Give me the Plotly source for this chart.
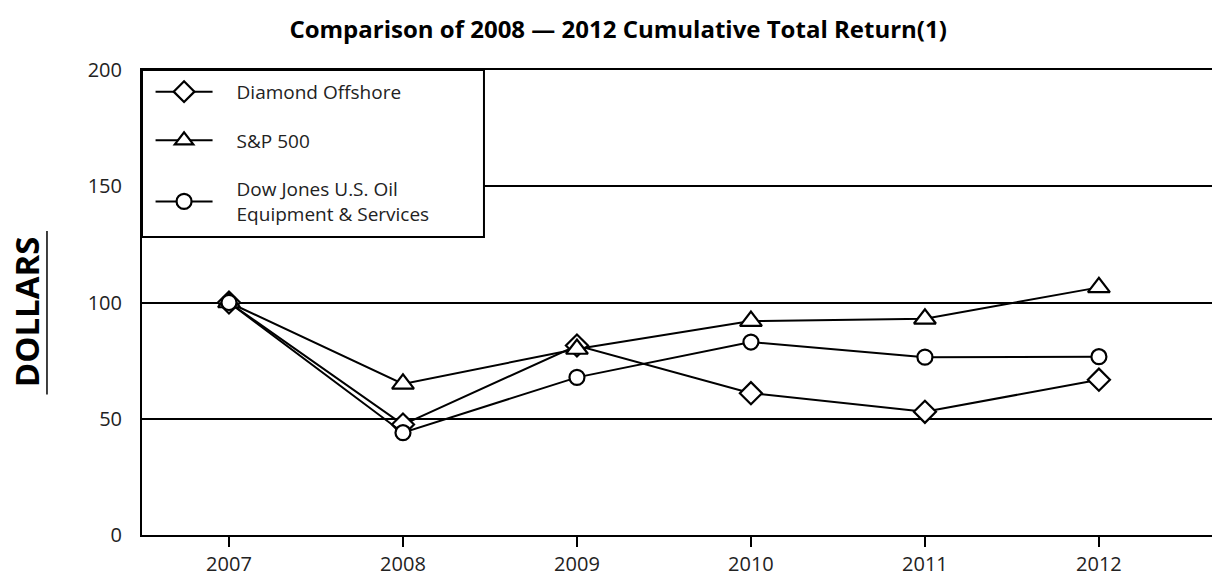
import plotly.graph_objects as go

years = [2007, 2008, 2009, 2010, 2011, 2012]
diamond_offshore = [100, 47.5, 81.5, 61, 53, 66.8]
sp500 = [100, 65, 80, 92, 93, 106.5]
dj_oil = [100, 44, 67.8, 83, 76.5, 76.7]

PAD = "\u2002\u2002"
series = [
    (PAD + "Diamond Offshore", diamond_offshore, "diamond"),
    (PAD + "S&P 500", sp500, "triangle-up"),
    (PAD + "Dow Jones U.S. Oil<br>" + PAD + "Equipment & Services", dj_oil, "circle"),
]
marker_sizes = {"diamond": 17, "triangle-up": 19, "circle": 15}

fig = go.Figure()
for i, (name, vals, sym) in enumerate(series):
    fig.add_trace(go.Scatter(
        x=years, y=vals, name=name, mode="lines+markers",
        legendgroup=f"g{i}",
        line=dict(color="black", width=2),
        marker=dict(symbol=sym, size=marker_sizes[sym], color="white",
                    line=dict(color="black", width=2.2)),
    ))

fig.update_layout(
    width=1212, height=578,
    margin=dict(l=142, r=0, t=70, b=43),
    paper_bgcolor="white", plot_bgcolor="white",
    font=dict(family="Open Sans", color="#222"),
    title=dict(text="<b>Comparison of 2008 — 2012 Cumulative Total Return(1)</b>",
               x=0.51, xanchor="center", y=0.948, yanchor="middle",
               font=dict(size=24, color="black", family="Open Sans")),
    showlegend=True,
    legend=dict(x=0.008, y=0.994, xanchor="left", yanchor="top",
                bgcolor="rgba(0,0,0,0)", borderwidth=0,
                font=dict(size=19, color="#222"), itemwidth=57,
                traceorder="grouped", tracegroupgap=21),
    xaxis=dict(range=[2006.5, 2012.65], tickvals=years,
               ticktext=[str(y) for y in years],
               showgrid=False, zeroline=False,
               showline=True, linecolor="black", linewidth=2, mirror=True,
               ticks="outside", ticklen=10, tickwidth=2, tickcolor="black",
               tickfont=dict(size=20, color="#222")),
    yaxis=dict(range=[0, 200], tickvals=[0, 50, 100, 150, 200],
               showgrid=True, gridcolor="black", gridwidth=2,
               zeroline=False, showline=True, linecolor="black", linewidth=2,
               ticks="", ticklabelstandoff=14,
               tickfont=dict(size=20, color="#222")),
    annotations=[dict(text="<b>DOLLARS</b>", xref="paper", yref="paper",
                      x=-0.108, y=0.48, xanchor="center", yanchor="middle",
                      textangle=-90, showarrow=False, borderpad=0,
                      font=dict(size=33, color="black", family="Open Sans"))],
)

# legend frame
fig.add_shape(type="rect", xref="paper", yref="paper",
              x0=0, x1=0.3196, y0=0.641, y1=1,
              fillcolor="white", line=dict(color="black", width=2),
              layer="above")
# underline of axis title
fig.add_shape(type="line", xref="paper", yref="paper",
              x0=-0.0888, x1=-0.0888, y0=0.302, y1=0.654,
              line=dict(color="black", width=1.5))

fig.write_html("out.html")
